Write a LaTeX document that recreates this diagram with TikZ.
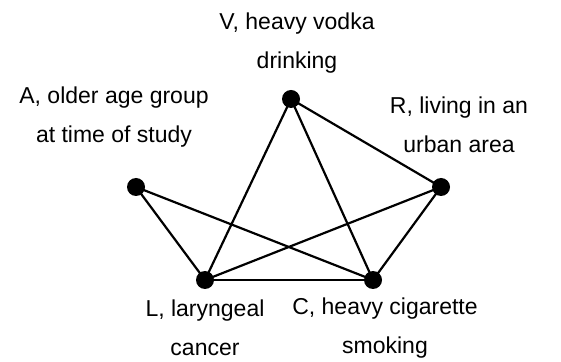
\documentclass[tikz,border=0pt]{standalone}
\usepackage{fontspec}
\setmainfont{Liberation Sans}
\usetikzlibrary{arrows}

\begin{document}
\begin{tikzpicture}[x=1pt,y=1pt,
  dot/.style={fill,circle,inner sep=0pt,minimum size=18pt},
  lab/.style={align=center,font=\fontsize{23}{39}\selectfont},
  edge/.style={line width=2.2pt}]
\useasboundingbox (0,0) rectangle (561,361);
% The dots
\node[dot] (v) at (291,262) {};
\node[dot] (r) at (441,174) {};
\node[dot] (a) at (136,174) {};
\node[dot] (l) at (205,81) {};
\node[dot] (c) at (373,81) {};
% The labels
\node[lab] (vlab) at (297,318) {V, heavy vodka\\drinking};
\node[lab] (alab) at (114,244) {A, older age group\\at time of study};
\node[lab] (rlab) at (459,236) {R, living in an\\urban area};
\node[lab] (llab) at (205,33) {L, laryngeal\\cancer};
\node[lab] (clab) at (385,33) {C, heavy cigarette\\smoking};
% The edges
\draw[edge] (v.center) -- (r.center);
\draw[edge] (v.center) -- (l.center);
\draw[edge] (v.center) -- (c.center);
\draw[edge] (a.center) -- (l.center);
\draw[edge] (a.center) -- (c.center);
\draw[edge] (r.center) -- (l.center);
\draw[edge] (r.center) -- (c.center);
\draw[edge] (l.center) -- (c.center);
\end{tikzpicture}
\end{document}
